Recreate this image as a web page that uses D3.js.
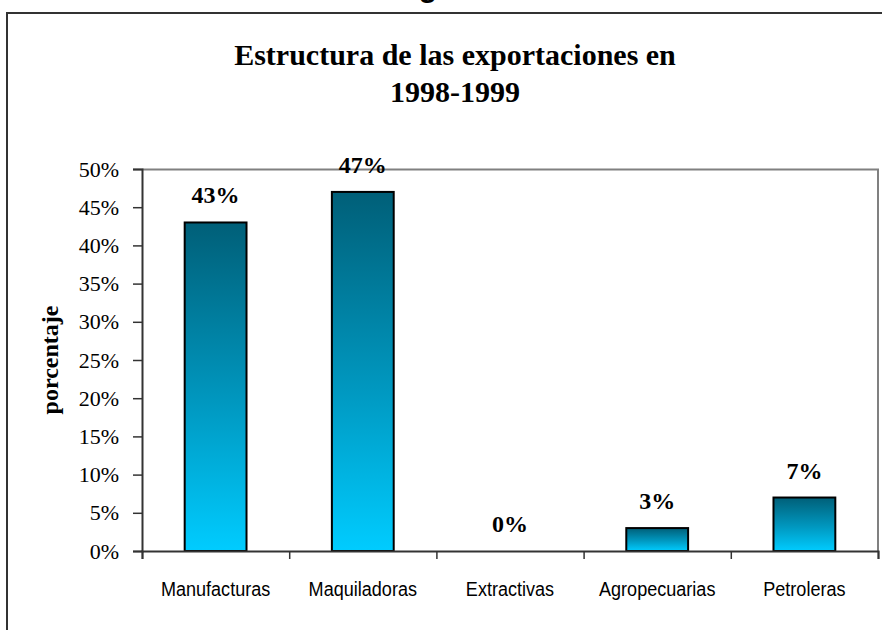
<!DOCTYPE html>
<html>
<head>
<meta charset="utf-8">
<script src="https://cdn.jsdelivr.net/npm/d3@7"></script>
<style>
  body { margin: 0; background: #fff; }
  svg { display: block; }
  .ytick text { font-family: "Liberation Serif", "Times New Roman", serif; font-size: 22px; fill: #000; }
  .xlab text { font-family: "Liberation Sans Narrow", "Arial Narrow", "Liberation Sans", sans-serif; font-size: 21px; fill: #000; }
</style>
</head>
<body>
<svg width="882" height="630"></svg>
<script>
// datos de la grafica
var categorias = ["Manufacturas", "Maquiladoras", "Extractivas", "Agropecuarias", "Petroleras"];
var valores = [43, 47, 0, 3, 7];
var ticksY = [0, 5, 10, 15, 20, 25, 30, 35, 40, 45, 50];
var titulo = ["Estructura de las exportaciones en", "1998-1999"];

var svg = d3.select("svg"),
    margin = { top: 169, right: 4, bottom: 79, left: 142 },
    width = +svg.attr("width") - margin.left - margin.right,
    height = +svg.attr("height") - margin.top - margin.bottom;

// degradado de las barras
var grad = svg.append("defs").append("linearGradient")
    .attr("id", "degradado")
    .attr("x1", 0).attr("y1", 0).attr("x2", 0).attr("y2", 1);
grad.append("stop").attr("offset", "0%").attr("stop-color", "#005f78");
grad.append("stop").attr("offset", "55%").attr("stop-color", "#0098c0");
grad.append("stop").attr("offset", "100%").attr("stop-color", "#00ccff");

// texto cortado arriba (resto del encabezado)
svg.append("text")
    .attr("x", 428).attr("y", -3)
    .attr("text-anchor", "middle")
    .style("font-family", "Liberation Sans, Arial, sans-serif")
    .style("font-weight", "bold")
    .style("font-size", "30px")
    .text("g");

// marco exterior
svg.append("path")
    .attr("d", "M7,640 L7,13 L890,13")
    .attr("fill", "none")
    .attr("stroke", "#333")
    .attr("stroke-width", 2);

// titulo
svg.append("g").selectAll("text")
    .data(titulo)
    .enter().append("text")
    .attr("x", 455)
    .attr("y", function (d, i) { return 65 + i * 37; })
    .attr("text-anchor", "middle")
    .style("font-family", "Liberation Serif, Times New Roman, serif")
    .style("font-weight", "bold")
    .style("font-size", "30px")
    .text(function (d) { return d; });

var xAs = d3.scaleBand().domain(categorias).range([0, width]).paddingInner(0.58).paddingOuter(0.29),
    xGrens = d3.scaleLinear().domain([0, categorias.length]).range([0, width]),
    yAs = d3.scaleLinear().domain([0, 50]).range([height, 0]);

var groep = svg.append("g")
    .attr("transform", "translate(" + margin.left + "," + margin.top + ")");

// borde superior y derecho del area de trazado
groep.append("path")
    .attr("d", "M0,0.5 H" + width + " V" + height)
    .attr("fill", "none")
    .attr("stroke", "#808080")
    .attr("stroke-width", 2);

// eje Y
var ejeY = groep.append("g")
    .attr("class", "ytick")
    .call(d3.axisLeft(yAs).tickValues(ticksY).tickSize(9).tickPadding(14)
        .tickFormat(function (d) { return d + "%"; }));
ejeY.select(".domain").attr("stroke", "#333").attr("stroke-width", 2);
ejeY.selectAll(".tick line").attr("stroke", "#333").attr("stroke-width", 1.5);

groep.append("text")
    .attr("transform", "translate(-84," + (height / 2) + ") rotate(-90)")
    .attr("text-anchor", "middle")
    .style("font-family", "Liberation Serif, Times New Roman, serif")
    .style("font-weight", "bold")
    .style("font-size", "24px")
    .text("porcentaje");

// barras
groep.selectAll(".barra")
    .data(valores)
    .enter().append("rect")
    .attr("class", "barra")
    .attr("x", function (d, i) { return xAs(categorias[i]); })
    .attr("width", xAs.bandwidth())
    .attr("y", function (d) { return yAs(d); })
    .attr("height", function (d) { return height - yAs(d); })
    .attr("fill", "url(#degradado)")
    .attr("stroke", function (d) { return d > 0 ? "#000" : "none"; })
    .attr("stroke-width", 2);

// eje X: marcas entre categorias
var ejeX = groep.append("g")
    .attr("transform", "translate(0," + height + ")")
    .call(d3.axisBottom(xGrens).tickValues(d3.range(categorias.length + 1)).tickSize(8).tickFormat(""));
ejeX.select(".domain").attr("stroke", "#333").attr("stroke-width", 2);
ejeX.selectAll(".tick line").attr("stroke", "#333").attr("stroke-width", 1.5);

// eje X: etiquetas (letra estrecha)
var etiquetas = groep.append("g")
    .attr("class", "xlab")
    .attr("transform", "translate(0," + height + ")")
    .call(d3.axisBottom(xAs).tickSize(0).tickPadding(30));
etiquetas.select(".domain").remove();
etiquetas.selectAll(".tick text").attr("transform", "scale(0.86,1)");

// etiquetas de datos
groep.selectAll(".etiqueta")
    .data(valores)
    .enter().append("text")
    .attr("class", "etiqueta")
    .attr("x", function (d, i) { return xAs(categorias[i]) + xAs.bandwidth() / 2; })
    .attr("y", function (d) { return yAs(d) - 19; })
    .attr("text-anchor", "middle")
    .style("font-family", "Liberation Serif, Times New Roman, serif")
    .style("font-weight", "bold")
    .style("font-size", "24px")
    .text(function (d) { return d + "%"; });
</script>
</body>
</html>
